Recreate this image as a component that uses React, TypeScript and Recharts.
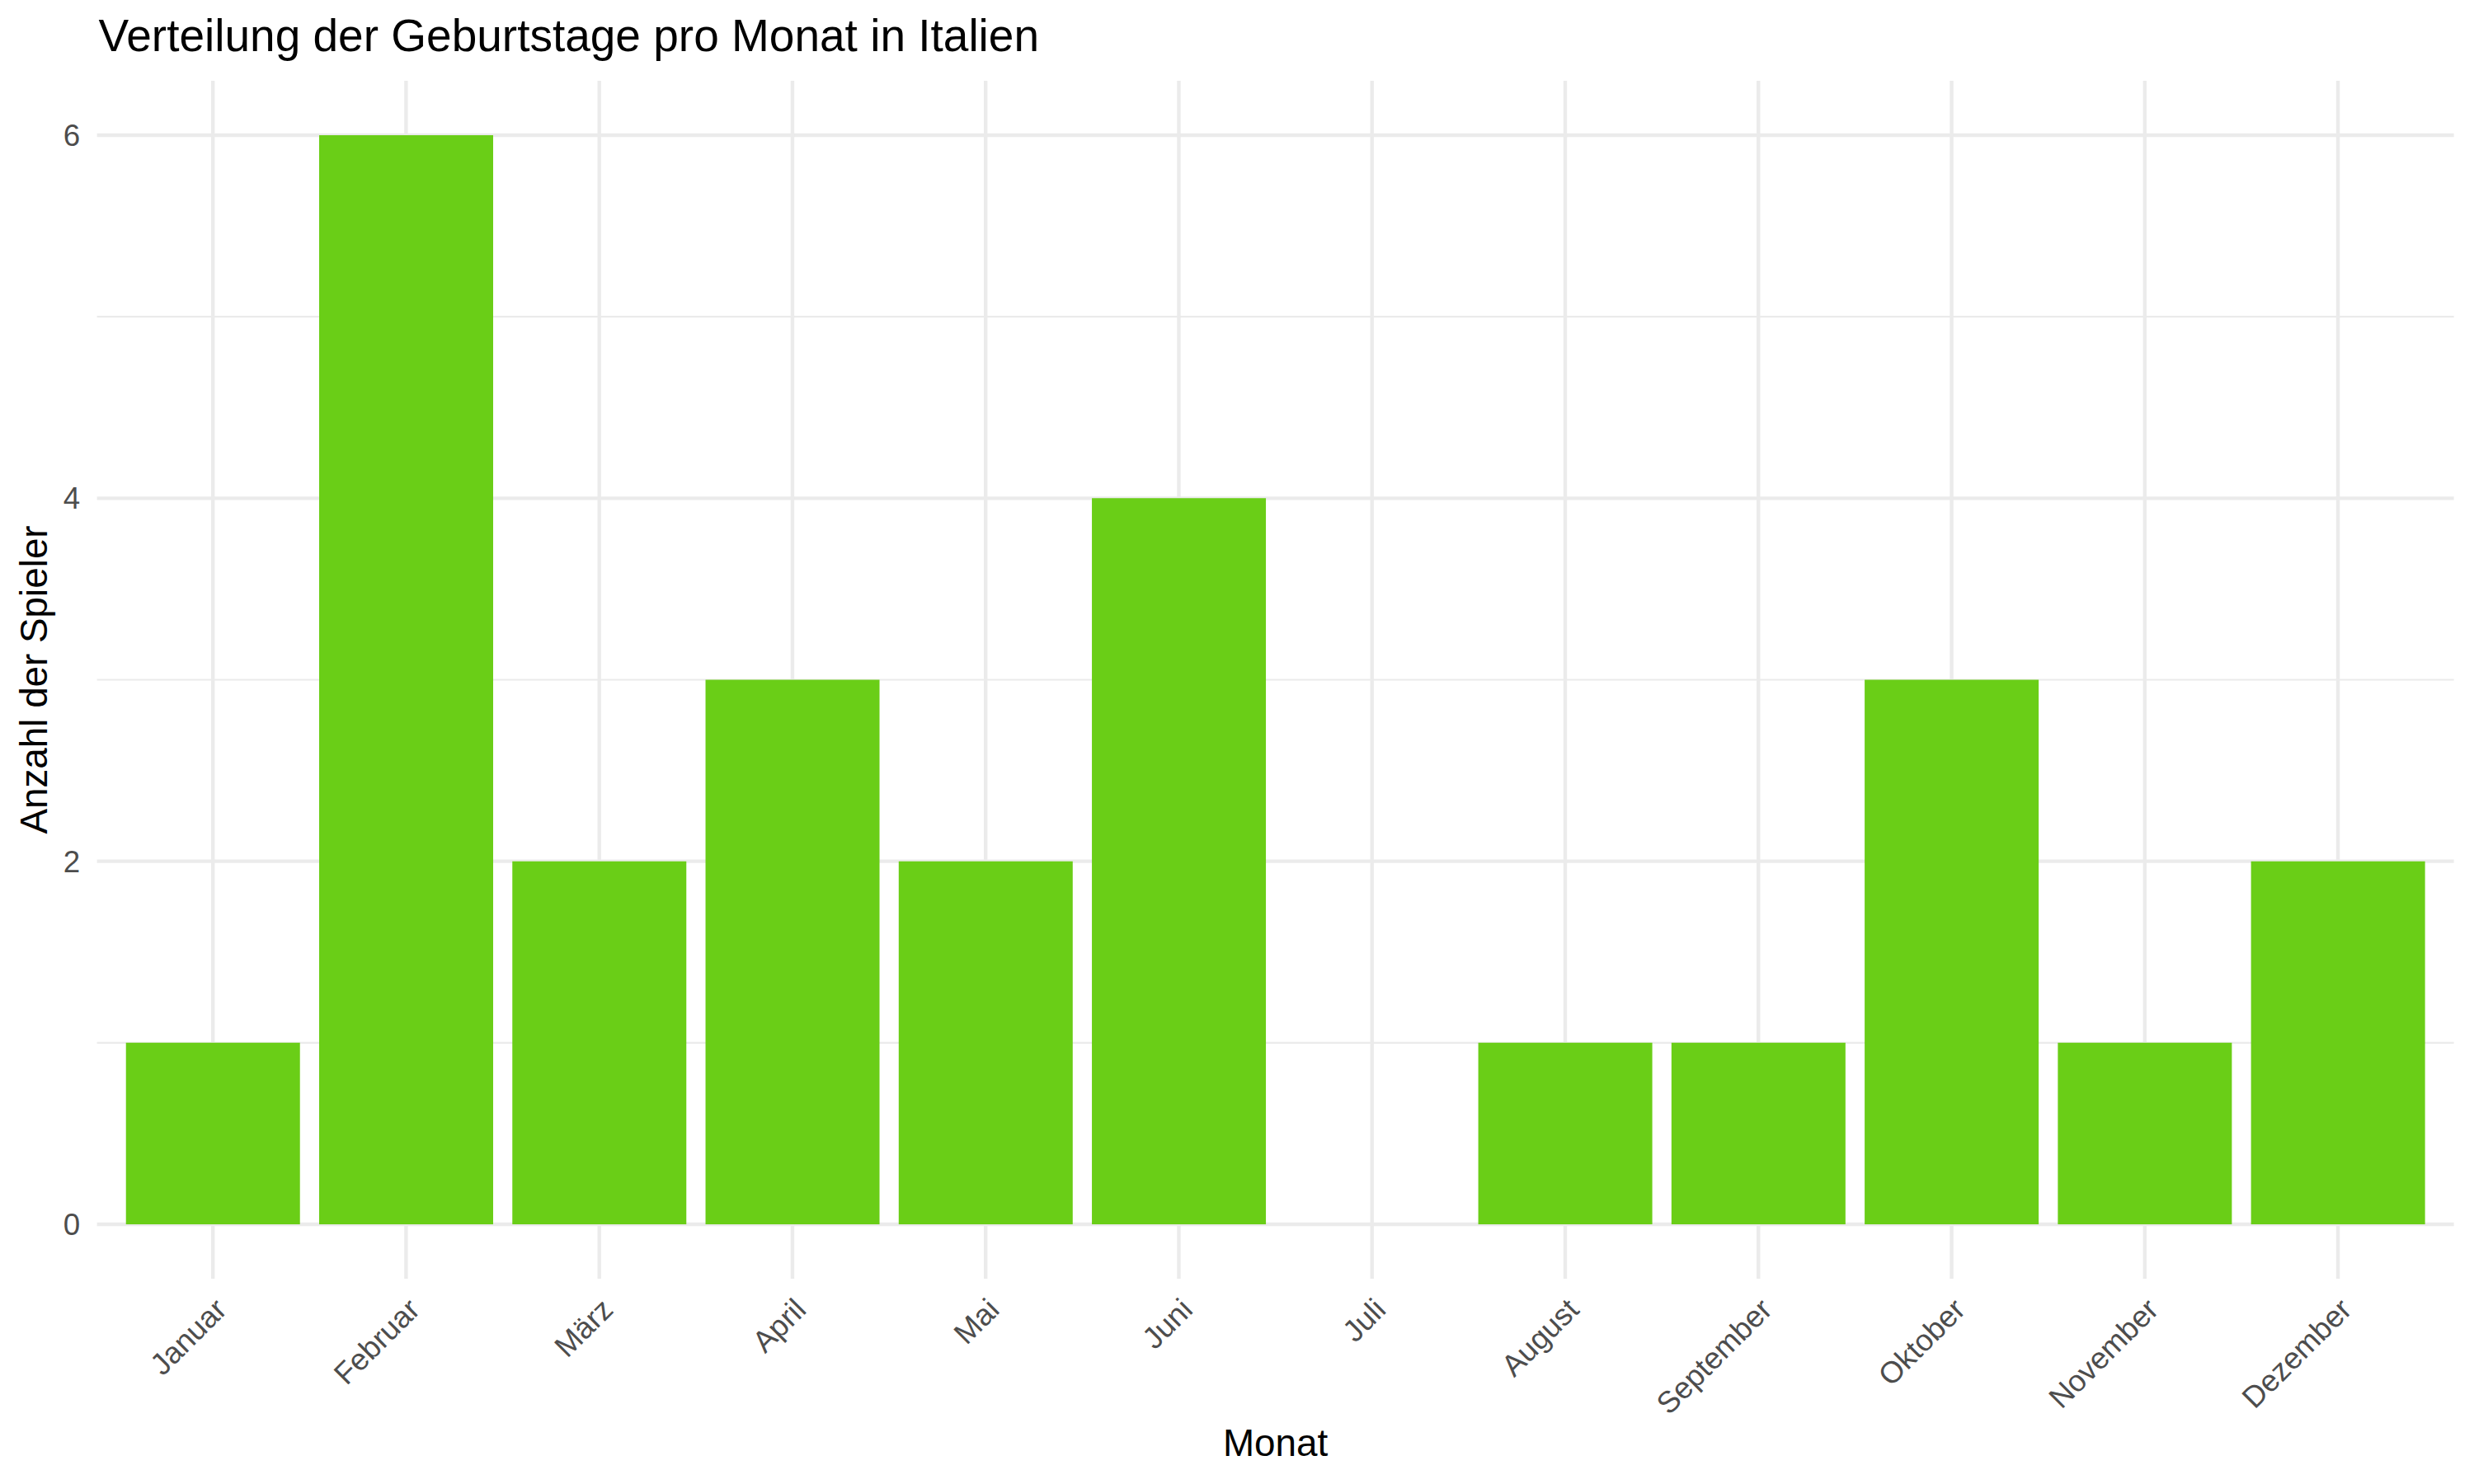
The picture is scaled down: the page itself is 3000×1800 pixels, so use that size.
import { BarChart, Bar, XAxis, YAxis, CartesianGrid } from "recharts";

const months = [
  "Januar", "Februar", "März", "April", "Mai", "Juni",
  "Juli", "August", "September", "Oktober", "November", "Dezember",
];
const counts = [1, 6, 2, 3, 2, 4, 0, 1, 1, 3, 1, 2];
const majorTicks = [0, 2, 4, 6];
const minorTicks = [1, 3, 5];

const W = 3000;
const H = 1800;
const FONT = "'Liberation Sans', Arial, Helvetica, sans-serif";
const BAR = "#6ACE17";
const GRID = "#EBEBEB";

// panel box (ggplot style)
const PANEL_LEFT = 117.6;
const PANEL_TOP = 98;
const PANEL_RIGHT = 2975.6;
const PANEL_BOTTOM = 1551;
const BAND = (PANEL_RIGHT - PANEL_LEFT) / 12.2;

function MonthTick(props: any) {
  const { x, y, payload } = props;
  return (
    <text
      x={x}
      y={y}
      dy="0.72em"
      textAnchor="end"
      transform={`rotate(-45, ${x}, ${y})`}
      fontSize={36.7}
      fontFamily={FONT}
      fill="#4D4D4D"
    >
      {payload.value}
    </text>
  );
}

export default function App() {
  const data = months.map((m, i) => ({ month: m, count: counts[i] }));

  return (
    <div style={{ position: "absolute", left: 0, top: 0, width: W, height: H, background: "#fff" }}>
      <BarChart
        width={W}
        height={H}
        data={data}
        margin={{ top: PANEL_TOP, right: W - PANEL_RIGHT, left: 0, bottom: 0 }}
        barCategoryGap="5%"
      >
        <CartesianGrid
          horizontal
          vertical={false}
          horizontalValues={minorTicks}
          syncWithTicks
          stroke={GRID}
          strokeWidth={2.2}
        />
        <CartesianGrid
          horizontal
          vertical
          horizontalValues={majorTicks}
          syncWithTicks
          stroke={GRID}
          strokeWidth={4.4}
        />
        <XAxis
          dataKey="month"
          type="category"
          height={H - PANEL_BOTTOM}
          padding={{ left: BAND * 0.1, right: BAND * 0.1 }}
          axisLine={false}
          tickLine={false}
          tickSize={0}
          tickMargin={21}
          interval={0}
          tick={<MonthTick />}
        />
        <YAxis
          type="number"
          width={PANEL_LEFT}
          domain={[-0.3, 6.3]}
          ticks={majorTicks}
          allowDataOverflow
          axisLine={false}
          tickLine={false}
          tickSize={0}
          tickMargin={20.5}
          tick={{ fontSize: 36.7, fontFamily: FONT, fill: "#4D4D4D" }}
        />
        <Bar dataKey="count" fill={BAR} isAnimationActive={false} />
      </BarChart>
      <svg
        width={W}
        height={H}
        style={{ position: "absolute", left: 0, top: 0, pointerEvents: "none" }}
      >
        <text x={PANEL_LEFT + 2} y={62} fontSize={55} fontFamily={FONT} fill="#000">
          Verteilung der Geburtstage pro Monat in Italien
        </text>
        <text
          x={(PANEL_LEFT + PANEL_RIGHT) / 2}
          y={1766}
          textAnchor="middle"
          fontSize={45.8}
          fontFamily={FONT}
          fill="#000"
        >
          Monat
        </text>
        <text
          x={57}
          y={(PANEL_TOP + PANEL_BOTTOM) / 2}
          textAnchor="middle"
          transform={`rotate(-90, 57, ${(PANEL_TOP + PANEL_BOTTOM) / 2})`}
          fontSize={45.8}
          fontFamily={FONT}
          fill="#000"
        >
          Anzahl der Spieler
        </text>
      </svg>
    </div>
  );
}
